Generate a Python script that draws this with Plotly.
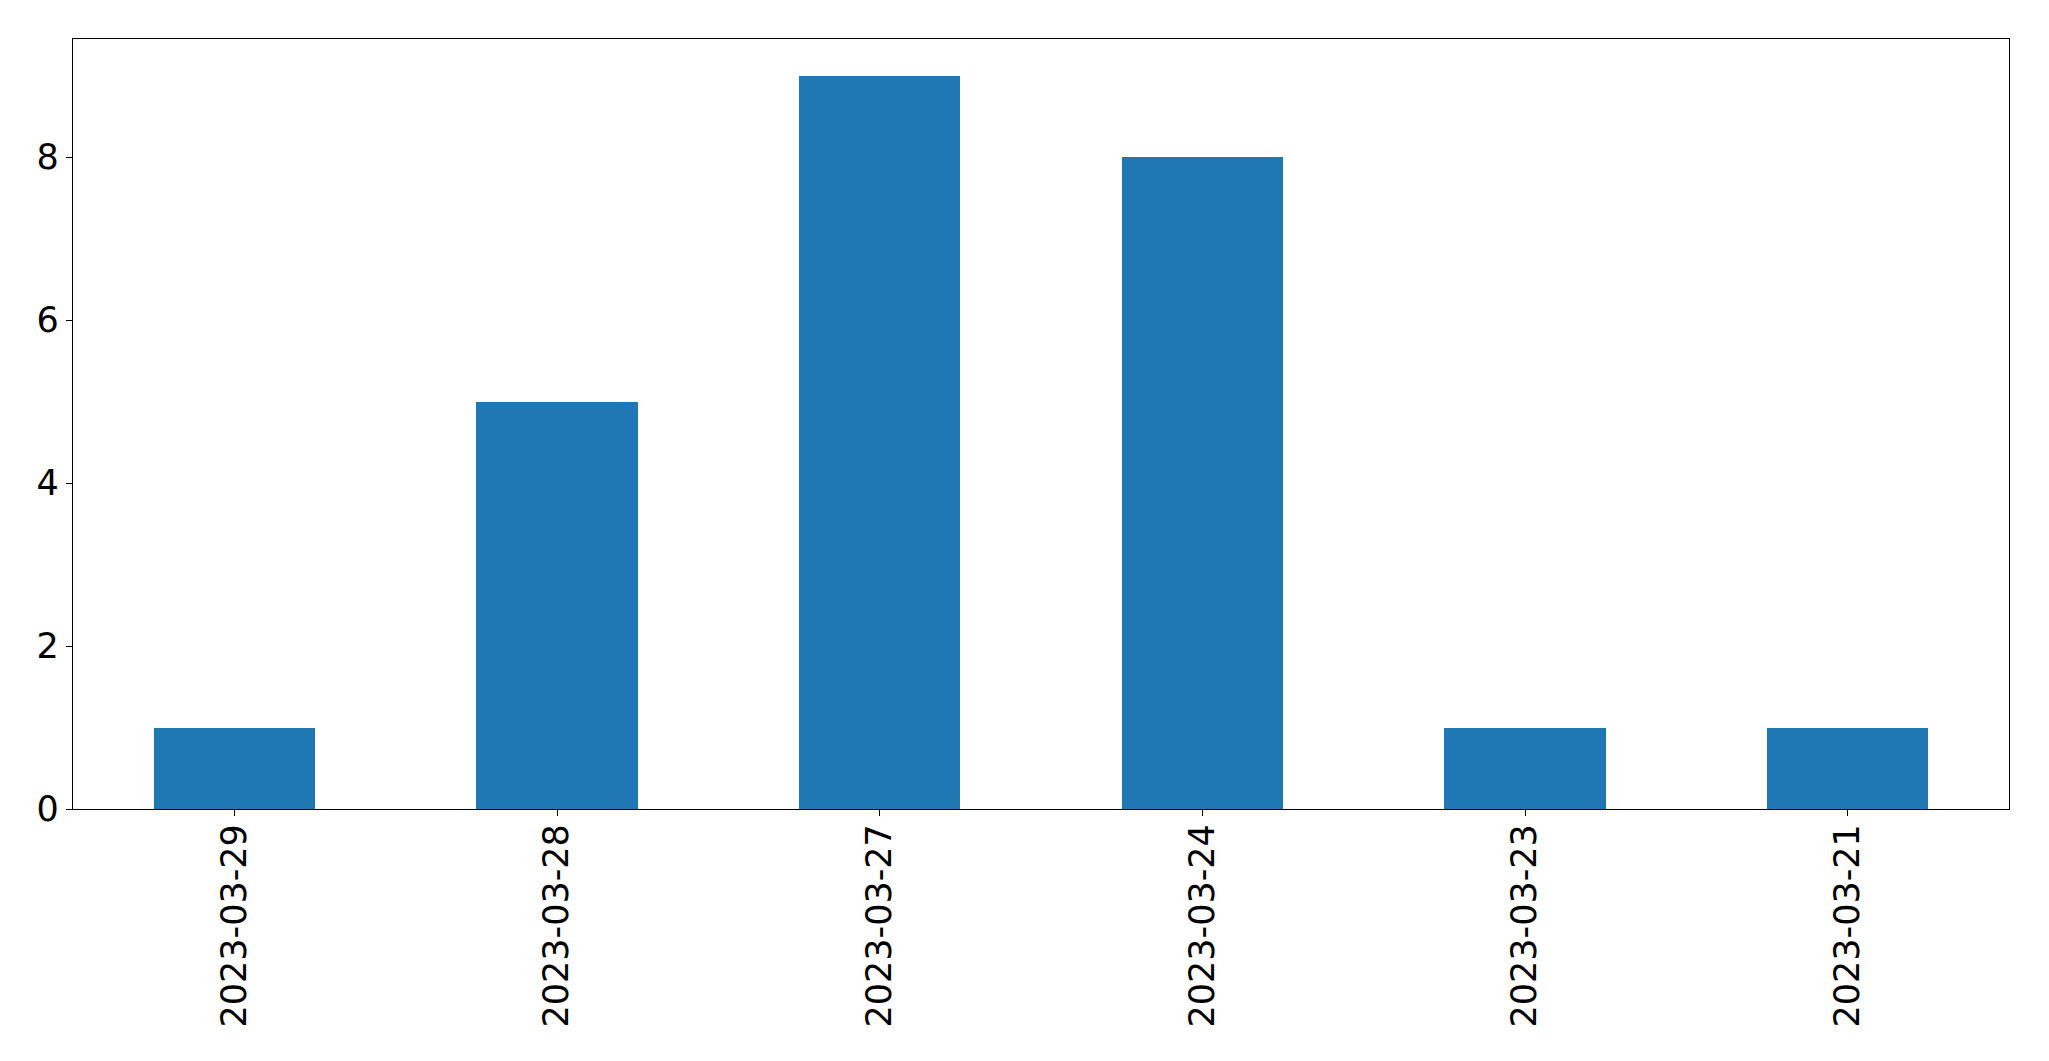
import plotly.graph_objects as go

dates = ["2023-03-29", "2023-03-28", "2023-03-27", "2023-03-24", "2023-03-23", "2023-03-21"]
counts = [1, 5, 9, 8, 1, 1]
y_ticks = [0, 2, 4, 6, 8]

fig = go.Figure(
    go.Bar(
        x=list(range(len(dates))),
        y=counts,
        width=0.5,
        marker=dict(color="#1f77b4", line=dict(width=0)),
    )
)

font = dict(family="DejaVu Sans", size=35, color="black")

fig.update_layout(
    width=2041,
    height=1053,
    margin=dict(l=64.5, r=39.7, t=31.3, b=252, pad=0),
    paper_bgcolor="white",
    plot_bgcolor="white",
    showlegend=False,
    font=font,
    bargap=0,
)
fig.update_xaxes(
    range=[-0.5, len(dates) - 0.5],
    tickmode="array",
    tickvals=list(range(len(dates))),
    ticktext=dates,
    tickangle=-90,
    ticks="outside",
    ticklen=6,
    tickwidth=1.3,
    tickcolor="black",
    ticklabelstandoff=-6,
    showline=True,
    linecolor="black",
    linewidth=1.3,
    mirror=True,
    showgrid=False,
    zeroline=False,
    tickfont=font,
)
fig.update_yaxes(
    range=[0, 9.45],
    tickmode="array",
    tickvals=y_ticks,
    ticktext=[str(v) for v in y_ticks],
    ticks="outside",
    ticklen=6,
    tickwidth=1.3,
    tickcolor="black",
    showline=True,
    linecolor="black",
    linewidth=1.3,
    mirror=True,
    showgrid=False,
    zeroline=False,
    tickfont=font,
)

fig.write_html("out.html")
